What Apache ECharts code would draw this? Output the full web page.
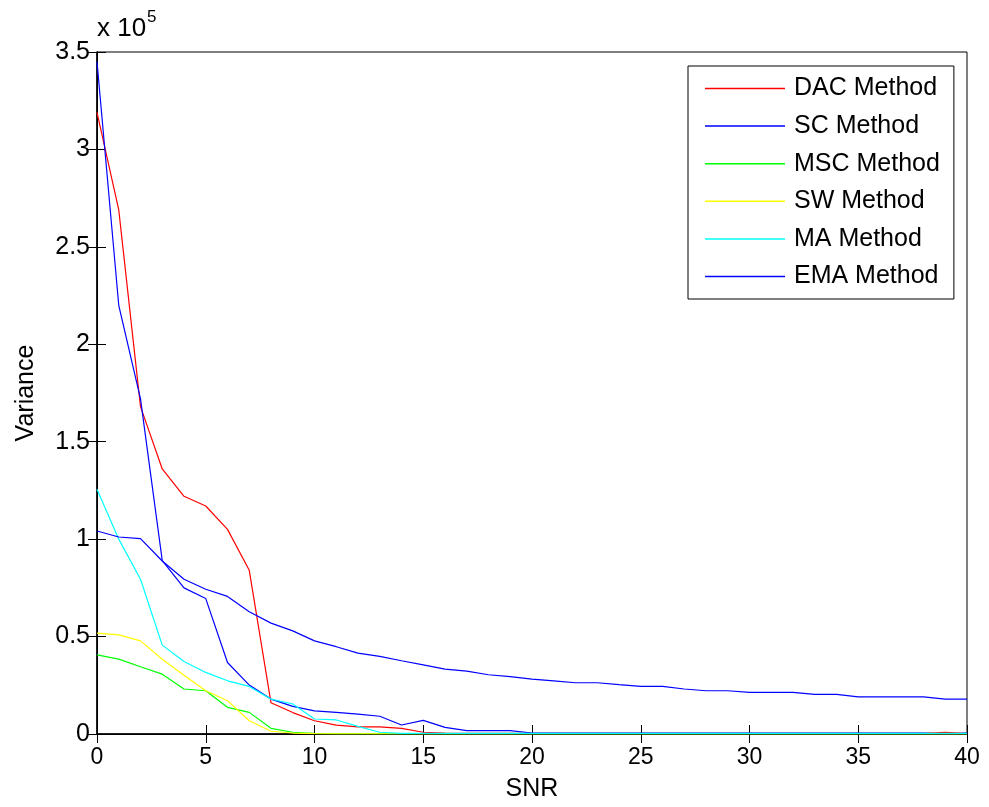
<!DOCTYPE html>
<html>
<head>
<meta charset="utf-8">
<script src="https://cdn.jsdelivr.net/npm/echarts@6/dist/echarts.min.js"></script>
<style>html,body{margin:0;padding:0;background:#fff;}#c{width:989px;height:807px;}</style>
</head>
<body>
<div id="c"></div>
<script>
// SNR values 0..40
const snr = [0,1,2,3,4,5,6,7,8,9,10,11,12,13,14,15,16,17,18,19,20,21,22,23,24,25,26,27,28,29,30,31,32,33,34,35,36,37,38,39,40];
// Variance in units of 10^5
const dac = [3.19,2.69,1.68,1.36,1.22,1.17,1.05,0.84,0.16,0.11,0.068,0.046,0.037,0.037,0.029,0.009,0.004,0.003,0.003,0.003,0.003,0.003,0.003,0.003,0.003,0.003,0.003,0.003,0.003,0.003,0.003,0.003,0.003,0.003,0.003,0.003,0.003,0.003,0.003,0.009,0.003];
const sc = [3.45,2.20,1.72,0.89,0.75,0.695,0.367,0.251,0.179,0.142,0.119,0.111,0.102,0.091,0.046,0.070,0.034,0.017,0.017,0.017,0.005,0.005,0.005,0.005,0.005,0.005,0.005,0.005,0.005,0.005,0.005,0.005,0.005,0.005,0.005,0.005,0.005,0.005,0.005,0.0,0.005];
const msc = [0.406,0.384,0.345,0.307,0.231,0.222,0.137,0.111,0.029,0.009,0.003,0.002,0.002,0.002,0.002,0.002,0.002,0.002,0.002,0.002,0.002,0.002,0.002,0.002,0.002,0.002,0.002,0.002,0.002,0.002,0.002,0.002,0.002,0.002,0.002,0.002,0.002,0.002,0.002,0.002,0.002];
const sw = [0.518,0.509,0.478,0.384,0.302,0.222,0.171,0.068,0.014,0.005,0.002,0.001,0.001,0.001,0.001,0.001,0.001,0.001,0.001,0.001,0.001,0.001,0.001,0.001,0.001,0.001,0.001,0.001,0.001,0.001,0.001,0.001,0.001,0.001,0.001,0.001,0.001,0.001,0.001,0.001,0.001];
const ma = [1.256,1.0,0.794,0.456,0.372,0.316,0.273,0.244,0.179,0.154,0.077,0.072,0.039,0.009,0.003,0.003,0.003,0.003,0.003,0.003,0.003,0.003,0.003,0.003,0.003,0.003,0.003,0.003,0.003,0.003,0.003,0.003,0.003,0.003,0.003,0.003,0.003,0.003,0.003,0.003,0.003];
const ema = [1.042,1.011,1.003,0.888,0.794,0.743,0.706,0.627,0.569,0.529,0.478,0.448,0.415,0.398,0.376,0.355,0.333,0.323,0.304,0.294,0.282,0.273,0.263,0.263,0.253,0.244,0.244,0.231,0.222,0.222,0.214,0.214,0.214,0.203,0.203,0.191,0.191,0.191,0.191,0.179,0.179];
const seriesNames = ['DAC Method','SC Method','MSC Method','SW Method','MA Method','EMA Method'];
const seriesColors = ['#ff0000','#0000ff','#00ff00','#ffff00','#00ffff','#0000ff'];
const seriesData = [dac, sc, msc, sw, ma, ema];
const xTicks = [0,5,10,15,20,25,30,35,40];
const yTicks = [0,0.5,1,1.5,2,2.5,3,3.5];

const chart = echarts.init(document.getElementById('c'), null, {renderer:'canvas'});
const FONT = 'Liberation Sans, Arial, sans-serif';
const tickStyle = {show:true, inside:true, length:9, lineStyle:{color:'#000', width:1}};
const option = {
  animation:false,
  backgroundColor:'#fff',
  grid:{left:97, top:52, right:22, bottom:72, show:true, borderColor:'#000', borderWidth:1},
  xAxis:[{
    type:'value', min:xTicks[0], max:xTicks[xTicks.length-1], interval:5,
    name:'SNR', nameLocation:'middle', nameGap:43,
    nameTextStyle:{fontFamily:FONT, fontSize:25, color:'#000'},
    axisLine:{show:true, onZero:false, lineStyle:{color:'#000', width:1.5}},
    axisTick:tickStyle,
    axisLabel:{fontFamily:FONT, fontSize:23, color:'#000', margin:12},
    splitLine:{show:false}
  },{
    type:'value', position:'top', min:xTicks[0], max:xTicks[xTicks.length-1], interval:5,
    axisLine:{show:true, lineStyle:{color:'#000', width:1}},
    axisTick:tickStyle, axisLabel:{show:false}, splitLine:{show:false}
  }],
  yAxis:[{
    type:'value', min:yTicks[0], max:yTicks[yTicks.length-1], interval:0.5,
    name:'Variance', nameLocation:'middle', nameGap:58,
    nameTextStyle:{fontFamily:FONT, fontSize:25, color:'#000'},
    axisLine:{show:true, onZero:false, lineStyle:{color:'#000', width:1.5}},
    axisTick:tickStyle,
    axisLabel:{fontFamily:FONT, fontSize:25, color:'#000', margin:7},
    splitLine:{show:false}
  },{
    type:'value', position:'right', min:yTicks[0], max:yTicks[yTicks.length-1], interval:0.5,
    axisLine:{show:true, lineStyle:{color:'#000', width:1}},
    axisTick:tickStyle, axisLabel:{show:false}, splitLine:{show:false}
  }],
  legend:{
    orient:'vertical', left:688, top:66,
    data:seriesNames,
    icon:'path://M0,0 L80,0 L80,1.5 L0,1.5 Z',
    itemWidth:80, itemHeight:2, itemGap:12.6,
    padding:[10,14,10,17],
    borderColor:'#000', borderWidth:1, backgroundColor:'#fff',
    textStyle:{fontFamily:FONT, fontSize:25, color:'#000', lineHeight:25, padding:[0,0,0,4]}
  },
  graphic:[
    {type:'text', left:97, top:16, style:{text:'x 10', fontFamily:FONT, fontSize:26, fill:'#000'}},
    {type:'text', left:147, top:9, style:{text:'5', fontFamily:FONT, fontSize:17, fill:'#000'}}
  ],
  series: seriesNames.map((n,i)=>({
    name:n, type:'line', showSymbol:false, symbol:'none',
    data: snr.map((x,j)=>[x, seriesData[i][j]]),
    lineStyle:{color:seriesColors[i], width:1.2},
    itemStyle:{color:seriesColors[i]}
  }))
};
chart.setOption(option);
</script>
</body>
</html>
